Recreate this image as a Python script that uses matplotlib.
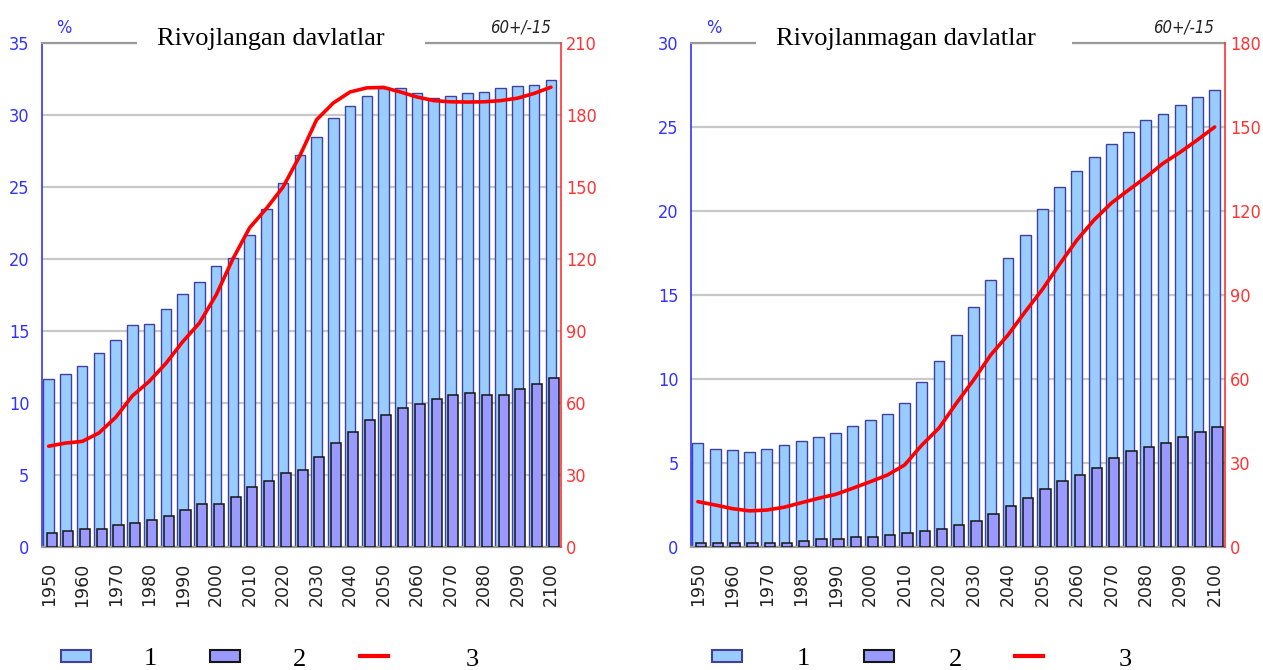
import numpy as np
import matplotlib
matplotlib.use("Agg")
import matplotlib.pyplot as plt
from matplotlib.patches import Rectangle
from matplotlib.lines import Line2D
from matplotlib import font_manager

years = list(range(1950, 2101, 5))

# Rivojlangan davlatlar
dev_s1 = [11.7, 12.0, 12.6, 13.5, 14.4, 15.4, 15.5, 16.5, 17.6, 18.4,
          19.5, 20.1, 21.7, 23.5, 25.3, 27.2, 28.5, 29.8, 30.6, 31.3,
          31.9, 31.9, 31.5, 31.2, 31.3, 31.5, 31.6, 31.9, 32.0, 32.1, 32.4]
dev_s2 = [1.0, 1.1, 1.25, 1.25, 1.5, 1.65, 1.9, 2.15, 2.6, 3.0,
          3.0, 3.5, 4.15, 4.6, 5.15, 5.35, 6.25, 7.2, 8.0, 8.8,
          9.2, 9.65, 9.9, 10.3, 10.55, 10.7, 10.55, 10.55, 11.0, 11.35, 11.75]
dev_s3 = [42, 43.3, 44, 47.5, 54, 63, 69, 76.5, 85.5, 93.3,
          105, 120, 133, 141, 150, 163, 178, 185, 189.6, 191.3,
          191.5, 189.6, 187.5, 186, 185.5, 185.4, 185.5, 186, 187, 189, 191.6]

# Rivojlanmagan davlatlar
und_s1 = [6.2, 5.85, 5.75, 5.65, 5.85, 6.1, 6.3, 6.55, 6.8, 7.2,
          7.55, 7.9, 8.6, 9.85, 11.1, 12.6, 14.3, 15.9, 17.2, 18.6,
          20.1, 21.4, 22.4, 23.2, 24.0, 24.7, 25.4, 25.8, 26.3, 26.8, 27.2]
und_s2 = [0.26, 0.26, 0.26, 0.26, 0.26, 0.26, 0.38, 0.48, 0.48, 0.6,
          0.6, 0.71, 0.81, 0.95, 1.05, 1.3, 1.53, 1.96, 2.44, 2.9,
          3.45, 3.93, 4.27, 4.7, 5.28, 5.73, 5.97, 6.19, 6.55, 6.86, 7.12]
und_s3 = [16.2, 15.0, 13.7, 12.9, 13.2, 14.2, 15.8, 17.4, 18.8, 21.0,
          23.3, 25.7, 29.3, 36.4, 42.5, 51.3, 59.6, 68.6, 75.7, 84,
          92, 101, 109.6, 116.8, 122.8, 127.5, 132, 137, 141, 145.4, 150]

legend_labels = ["1", "2", "3"]

LIGHT, LIGHT_EDGE = "#99ccff", "#40409f"
DARK, DARK_EDGE = "#9999ff", "#151515"
RED = "#ff0000"
BLUE_TXT, RED_TXT = "#3333ff", "#ff3333"
GRID = "#c8c8c8"

# narrow font for the axis numbers if there is one
fonts = font_manager.fontManager.ttflist
if any(f.name == "Liberation Sans Narrow" for f in fonts):
    NARROW, STRETCH, NSIZE = "Liberation Sans Narrow", "normal", 13.5
elif any(f.name == "DejaVu Sans" and f.stretch == "condensed" for f in fonts):
    NARROW, STRETCH, NSIZE = "DejaVu Sans", "condensed", 13
else:
    NARROW, STRETCH, NSIZE = "DejaVu Sans", "normal", 11.5
SERIF = "Liberation Serif"

W, H = 1263, 670
fig = plt.figure(figsize=(W / 100, H / 100), dpi=100)


def fx(px):
    return px / W


def fy(py):
    return 1 - py / H


def draw_panel(left, right, s1, s2, s3, ymax, ystep, y2max, y2step):
    ax = fig.add_axes([fx(left), fy(547), fx(right - left), (547 - 43) / H])
    x = np.arange(len(years))
    ax.bar(x, s1, width=0.63, color=LIGHT, edgecolor=LIGHT_EDGE, linewidth=1.0, zorder=2)
    ax.bar(x + 0.17, s2, width=0.6, color=DARK, edgecolor=DARK_EDGE, linewidth=1.1, zorder=3)
    ax.set_xlim(-0.4, len(years) - 0.4)
    ax.set_ylim(0, ymax)
    ax.set_yticks(np.arange(0, ymax + 0.1, ystep))
    ax.set_xticks(x[::2])
    ax.set_xticklabels([str(y) for y in years[::2]], rotation=90, fontsize=12.5,
                       color="#222222")
    ax.tick_params(axis="x", length=0, pad=11)
    ax.tick_params(axis="y", length=0, pad=9, labelcolor=BLUE_TXT)
    for t in ax.get_yticklabels():
        t.set_fontfamily(NARROW)
        t.set_fontstretch(STRETCH)
        t.set_fontsize(NSIZE)
    ax.yaxis.grid(True, color=GRID, linewidth=1.6)
    ax.set_axisbelow(True)
    ax.spines["left"].set_color(BLUE_TXT)
    ax.spines["left"].set_linewidth(1.2)
    ax.spines["right"].set_visible(False)
    ax.spines["top"].set_color("#999999")
    ax.spines["top"].set_linewidth(1.6)
    ax.spines["bottom"].set_color("#999999")
    ax.spines["bottom"].set_linewidth(1.6)

    ax2 = ax.twinx()
    ax2.plot(x, s3, color=RED, linewidth=2.6, solid_joinstyle="round",
             solid_capstyle="round", zorder=4)
    ax2.set_ylim(0, y2max)
    ax2.set_yticks(np.arange(0, y2max + 0.1, y2step))
    ax2.tick_params(axis="y", length=0, pad=3.5, labelcolor=RED_TXT)
    for t in ax2.get_yticklabels():
        t.set_fontfamily(NARROW)
        t.set_fontstretch(STRETCH)
        t.set_fontsize(NSIZE)
    for side in ("left", "top", "bottom"):
        ax2.spines[side].set_visible(False)
    ax2.spines["right"].set_color(RED_TXT)
    ax2.spines["right"].set_linewidth(1.2)
    return ax


def draw_header(title, gap, tx, pct_x, note_right):
    fig.add_artist(Rectangle((fx(gap[0]), fy(48)), fx(gap[1] - gap[0]), 10 / H,
                             transform=fig.transFigure, facecolor="white",
                             edgecolor="none", zorder=1))
    fig.text(fx(tx), fy(45), title, fontfamily=SERIF, fontsize=19, va="baseline",
             ha="left", color="black", zorder=2)
    fig.text(fx(pct_x), fy(33), "%", fontfamily=NARROW, fontstretch=STRETCH,
             fontsize=NSIZE, color=BLUE_TXT, ha="center", va="baseline")
    fig.text(fx(note_right), fy(33), "60+/-15", fontfamily=NARROW, fontstretch=STRETCH,
             fontsize=NSIZE - 1, style="italic", color="#222222",
             ha="right", va="baseline")


def draw_legend(pos):
    r1, t1, r2, t2, l3, t3 = pos
    fig.add_artist(Rectangle((fx(r1), fy(662)), fx(30), 12 / H, transform=fig.transFigure,
                             facecolor=LIGHT, edgecolor=LIGHT_EDGE, linewidth=1.5))
    fig.add_artist(Rectangle((fx(r2), fy(662)), fx(30), 12 / H, transform=fig.transFigure,
                             facecolor=DARK, edgecolor=DARK_EDGE, linewidth=1.5))
    fig.add_artist(Line2D([fx(l3), fx(l3 + 28)], [fy(656), fy(656)],
                          transform=fig.transFigure, color=RED, linewidth=3))
    for lab, tx, ty in zip(legend_labels, (t1, t2, t3), (665, 666, 666)):
        fig.text(fx(tx), fy(ty), lab, fontfamily=SERIF, fontsize=19,
                 ha="center", va="baseline", color="black")


draw_panel(42, 561, dev_s1, dev_s2, dev_s3, 35, 5, 210, 30)
draw_panel(691, 1225, und_s1, und_s2, und_s3, 30, 5, 180, 30)

draw_header("Rivojlangan davlatlar", (137, 425), 157, 64, 551)
draw_header("Rivojlanmagan davlatlar", (756, 1072), 776, 714, 1214)

draw_legend((61, 150, 210, 300, 360, 472))
draw_legend((712, 803, 864, 955, 1015, 1125))

fig.savefig("out.png", dpi=100)
